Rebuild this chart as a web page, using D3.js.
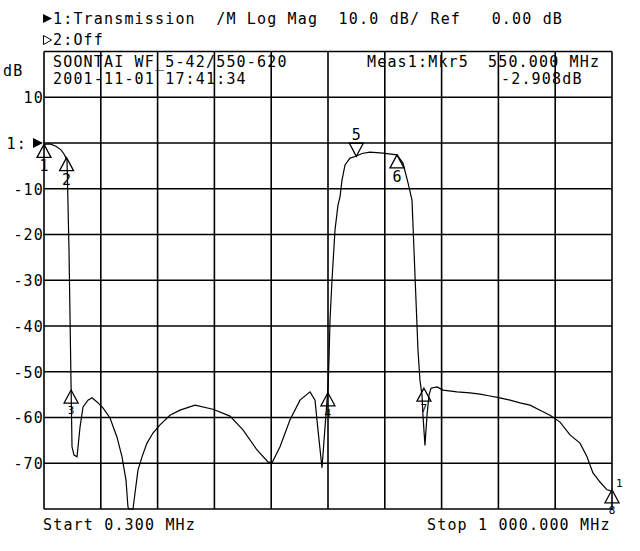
<!DOCTYPE html>
<html><head><meta charset="utf-8">
<script src="https://cdn.jsdelivr.net/npm/d3@7"></script>
<style>
html,body{margin:0;padding:0;background:#fff;}
svg{display:block;}
text{font-family:"DejaVu Sans Mono",monospace;font-size:15px;fill:#000;letter-spacing:1.17px;white-space:pre;}
</style></head><body>
<svg id="c" width="640" height="551"></svg>
<script>
// ---- data ----
const traceFreq = [0.3, 10.9, 21.4, 30.2, 35.5, 39.0, 40.8, 44.3, 47.8, 49.6, 53.1, 58.4, 63.7, 69.0, 77.7, 84.8, 93.6, 104.1, 116.5, 128.8, 137.6, 144.6, 148.1, 149.9, 156.9, 160.5, 165.7, 172.8, 181.6, 192.1, 204.5, 222.0, 239.7, 266.1, 297.7, 327.7, 350.5, 375.2, 394.5, 401.6, 415.7, 433.3, 450.9, 468.5, 477.3, 482.5, 489.6, 494.9, 500.2, 501.9, 503.7, 507.2, 512.5, 517.7, 521.3, 524.8, 530.1, 538.9, 549.4, 560.0, 574.0, 597.0, 621.6, 632.1, 641.0, 648.0, 651.5, 655.0, 658.5, 662.0, 665.6, 667.3, 670.8, 674.4, 677.9, 681.4, 692.0, 702.5, 727.2, 750.0, 767.7, 785.3, 802.9, 820.5, 838.1, 855.7, 873.3, 890.9, 908.5, 926.1, 943.7, 956.0, 966.5, 978.9, 991.2, 1000];
const traceDb = [-0.3, -0.2, -0.7, -1.5, -2.4, -3.3, -3.7, -23.4, -51.8, -66.4, -68.2, -68.6, -62.1, -57.7, -56.2, -55.7, -56.6, -57.9, -60.1, -64.3, -68.6, -73.7, -79.6, -80, -80, -76.5, -71.5, -68.6, -65.6, -63.4, -61.6, -59.5, -58.4, -57.3, -58.2, -59.7, -62.7, -67.1, -69.7, -69.9, -66.4, -60.5, -56.2, -54.4, -56.2, -62.7, -71.0, -62.1, -53.3, -47.4, -38.7, -29.9, -19.0, -13.6, -11.8, -8.1, -4.8, -3.3, -2.9, -2.3, -2.0, -2.2, -2.6, -4.4, -8.7, -12.5, -23.4, -34.3, -45.2, -51.8, -55.1, -59.5, -66.1, -59.5, -55.1, -53.6, -53.3, -54.0, -54.4, -54.6, -54.9, -55.3, -55.7, -56.2, -56.8, -57.3, -58.4, -59.5, -61.0, -63.8, -65.6, -68.6, -72.1, -74.1, -75.8, -76.1];

const markerIds  = ["1", "2", "3", "4", "5", "6", "7", "8"];
const markerFreq = [0.3, 40.0, 48.0, 500.0, 550.0, 621.6, 669.0, 1000];
const markerDb   = [-0.3, -3.2, -54.0, -54.6, -2.9, -2.6, -53.6, -75.8];
const markerDir  = ["up", "up", "up", "up", "down", "up", "up", "up"];

const yTicks = [10, 0, -10, -20, -30, -40, -50, -60, -70];
const yTickLabels = ["10", "1:", "-10", "-20", "-30", "-40", "-50", "-60", "-70"];

const freqStart = 0.3, freqStop = 1000, dbTop = 20, dbBottom = -80;

const headerLine1 = "1:Transmission  /M Log Mag  10.0 dB/ Ref   0.00 dB";
const headerLine2 = "2:Off";
const boxRow1 = [["SOONTAI WF_5-42/550-620", 53], ["Meas1:Mkr5", 367], ["550.000 MHz", 488]];
const boxRow2 = [["2001-11-01 17:41:34", 53], ["-2.908dB", 501]];

// ---- chart ----
const svg = d3.select("#c");
const L = 44, R = 612, T = 51.5, B = 509;
const x = d3.scaleLinear().domain([freqStart, freqStop]).range([L, R]);
const y = d3.scaleLinear().domain([dbBottom, dbTop]).range([B, T]);

// grid
const xGrid = d3.range(11).map(i => freqStart + i * (freqStop - freqStart) / 10);
const yGrid = d3.range(dbBottom, dbTop + 1, 10);
const g = svg.append("g");
g.selectAll("line.v").data(xGrid).join("line")
  .attr("x1", d => x(d)).attr("x2", d => x(d)).attr("y1", T).attr("y2", B)
  .attr("stroke", "#000").attr("stroke-width", 1.6);
g.selectAll("line.h").data(yGrid).join("line")
  .attr("y1", d => y(d)).attr("y2", d => y(d)).attr("x1", L).attr("x2", R)
  .attr("stroke", "#000").attr("stroke-width", 1.6);

// y axis labels
const yAxis = d3.axisLeft(y).tickValues(yTicks).tickSize(0).tickPadding(0)
  .tickFormat((d, i) => yTickLabels[i]);
const ya = svg.append("g").attr("transform", "translate(44,0)").call(yAxis);
ya.select(".domain").remove();
ya.selectAll("text").attr("font-family", null).attr("font-size", null)
  .attr("x", 0).attr("dy", "0.36em").attr("dx", null);
ya.selectAll(".tick").filter(d => d === 0).select("text").attr("x", -17);

// reference triangle
svg.append("path").attr("d", `M${L-11},${y(0)-5}L${L-1},${y(0)}L${L-11},${y(0)+5}Z`).attr("fill", "#000");

svg.append("text").attr("x", 3).attr("y", 76).text("dB");

// header
svg.append("path").attr("d", "M43,14L52,18.5L43,23Z").attr("fill", "#000");
svg.append("text").attr("x", 53).attr("y", 23.5).text(headerLine1);
svg.append("path").attr("d", "M43.5,35.5L51.5,40L43.5,44.5Z").attr("fill", "none").attr("stroke", "#000").attr("stroke-width", 1);
svg.append("text").attr("x", 53).attr("y", 45).text(headerLine2);
boxRow1.forEach(([t, px]) => svg.append("text").attr("x", px).attr("y", 67).text(t));
boxRow2.forEach(([t, px]) => svg.append("text").attr("x", px).attr("y", 84).text(t));

// trace
const pts = traceFreq.map((f, i) => [f, traceDb[i]]);
svg.append("path").datum(pts)
  .attr("d", d3.line().x(d => x(d[0])).y(d => y(d[1])))
  .attr("fill", "none").attr("stroke", "#000").attr("stroke-width", 1.2);

// markers
const mk = svg.append("g");
markerIds.forEach((id, i) => {
  const mx = x(markerFreq[i]), my = y(markerDb[i]);
  const w = 7, h = 13;
  const small = markerDb[i] < -40;
  if (markerDir[i] === "up") {
    mk.append("path").attr("d", `M${mx},${my}L${mx+w},${my+h}L${mx-w},${my+h}Z`)
      .attr("fill", "none").attr("stroke", "#000").attr("stroke-width", 1.3);
    mk.append("text").attr("x", mx).attr("y", my + h + (small ? 11 : 14))
      .attr("text-anchor", "middle").style("letter-spacing", "0px")
      .style("font-size", small ? "11px" : "15px").text(id);
  } else {
    mk.append("path").attr("d", `M${mx},${my}L${mx+w},${my-h}L${mx-w},${my-h}Z`)
      .attr("fill", "none").attr("stroke", "#000").attr("stroke-width", 1.3);
    mk.append("text").attr("x", mx).attr("y", my - h - 3)
      .attr("text-anchor", "middle").style("letter-spacing", "0px").text(id);
  }
});
svg.append("text").attr("x", x(freqStop) + 4).attr("y", y(-75.8) - 3)
  .style("font-size", "11px").style("letter-spacing", "0px").text("1");

// footer
svg.append("text").attr("x", 43).attr("y", 530).text("Start 0.300 MHz");
svg.append("text").attr("x", 427).attr("y", 530).text("Stop 1 000.000 MHz");
</script>
</body></html>
